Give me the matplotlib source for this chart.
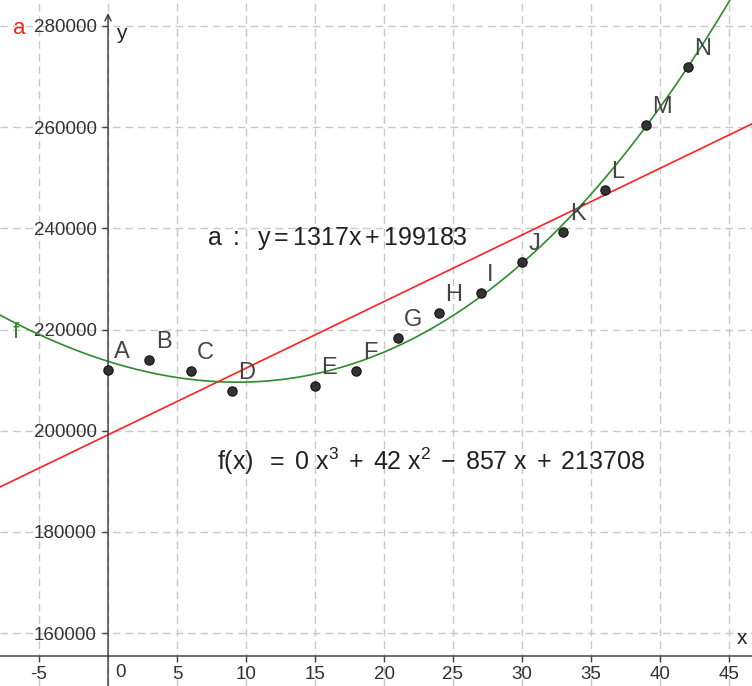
import numpy as np
import matplotlib
matplotlib.use('Agg')
import matplotlib.pyplot as plt

plt.rcParams['font.family'] = ['Liberation Sans', 'DejaVu Sans']
plt.rcParams['mathtext.fontset'] = 'custom'
plt.rcParams['mathtext.rm'] = 'Liberation Sans'
plt.rcParams['mathtext.it'] = 'Liberation Sans'
plt.rcParams['mathtext.sf'] = 'Liberation Sans'

# measured points
names = ['A', 'B', 'C', 'D', 'E', 'F', 'G', 'H', 'I', 'J', 'K', 'L', 'M', 'N']
xs = [0, 3, 6, 9, 15, 18, 21, 24, 27, 30, 33, 36, 39, 42]
ys = [212000, 214000, 211800, 207900, 208850, 211800, 218350, 223300,
      227250, 233350, 239300, 247600, 260450, 271900]

# regression line a and cubic fit f (cubic term shown rounded to 0)
line_coef = [1317, 199183]
cubic_coef = [0.27, 42, -857, 213708]

xmin, xmax = -7.83, 46.67
ymin, ymax = 149526, 285138

fig = plt.figure(figsize=(7.52, 6.86), dpi=100)
ax = fig.add_axes([0, 0, 1, 1])
ax.set_xlim(xmin, xmax)
ax.set_ylim(ymin, ymax)

grid_kw = dict(color='#c8c8c8', lw=1.0, dashes=(5.5, 3.5), zorder=0)
for gx in np.arange(-5, 46, 5):
    ax.axvline(gx, **grid_kw)
for gy in np.arange(160000, 281000, 20000):
    ax.axhline(gy, **grid_kw)

# axes: y axis at x=0, x axis pinned near bottom edge
for s in ['top', 'right']:
    ax.spines[s].set_visible(False)
ax.spines['left'].set_position(('data', 0))
ax.spines['left'].set_visible(False)
ax.spines['bottom'].set_position(('axes', 0.0437))
ax.spines['bottom'].set_color('#444444')
ax.spines['bottom'].set_linewidth(1.1)
ax.annotate('', xy=(0, 1 - 13 / 686), xycoords=('data', 'axes fraction'),
            xytext=(0, 0), textcoords=('data', 'axes fraction'),
            arrowprops=dict(arrowstyle='->', color='#444444', lw=1.1,
                            mutation_scale=11, shrinkA=0, shrinkB=0), zorder=3)

xt = [t for t in range(-5, 46, 5) if t != 0]
ax.set_xticks(xt)
ax.set_xticklabels([str(t) for t in xt])
yt = np.arange(160000, 281000, 20000)
ax.set_yticks(yt)
ax.set_yticklabels([str(int(t)) for t in yt])
ax.tick_params(axis='x', direction='out', length=4, width=1, color='#444444',
               labelsize=13.5, labelcolor='#333333', pad=3.5)
ax.tick_params(axis='y', direction='out', length=4.5, width=1, color='#444444',
               labelsize=13.5, labelcolor='#333333', pad=3.5)
ax.annotate('0', xy=(0, 0), xycoords=('data', 'axes fraction'),
            xytext=(5, 9.4), textcoords='offset points', fontsize=13.5,
            color='#333333', ha='left', va='center')

ax.text(0.55, 280400, 'y', fontsize=15, color='#222222', ha='left', va='top')
ax.text(45.6, 157000, 'x', fontsize=15, color='#222222', ha='left', va='bottom')

# fitted curves
xx = np.linspace(xmin, xmax, 600)
ax.plot(xx, np.polyval(line_coef, xx), color='#ff2020', lw=1.2, zorder=2)
ax.plot(xx, np.polyval(cubic_coef, xx), color='#2e8b2e', lw=1.2, zorder=2)

ax.scatter(xs, ys, s=45, color='#333333', edgecolor='#111111', lw=0.8, zorder=4)
for n, x, y in zip(names, xs, ys):
    ax.annotate(n, (x, y), xytext=(4.5, 5), textcoords='offset points',
                fontsize=17, color='#444444', ha='left', va='bottom')

ax.text(-6.4, 279600, 'a', fontsize=16, color='#ff2020', ha='center', va='center')
ax.text(-6.7, 219400, 'f', fontsize=16, color='#2e8b2e', ha='center', va='center')

ax.text(7.2, 238000,
        r'$\mathrm{a\ :\ \ y} = \mathrm{1317x} + \mathrm{%d}$' % line_coef[1],
        fontsize=18, color='#222222', ha='left', va='center')
ax.text(7.9, 194000,
        r'$\mathrm{f(x)\ } \;=\; \mathrm{0\ x^3} \;+\; \mathrm{42\ x^2} \;-\; '
        r'\mathrm{857\ x} \;+\; \mathrm{213708}$',
        fontsize=18, color='#222222', ha='left', va='center')

fig.savefig('out.png', dpi=100)
